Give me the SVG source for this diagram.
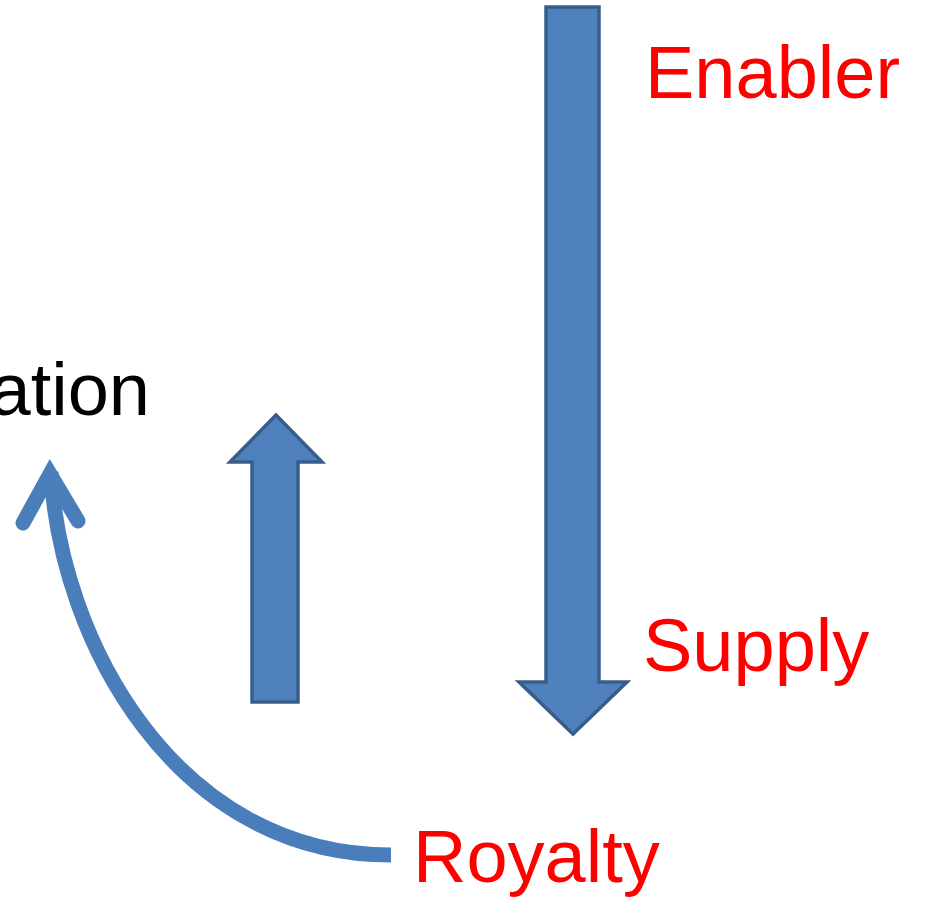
<svg xmlns="http://www.w3.org/2000/svg" width="926" height="898" viewBox="0 0 926 898">
<style>
.blk{fill:#4F81BD;stroke:#385D8A;stroke-width:3.5;stroke-linejoin:miter}
.lbl{font-family:"Liberation Sans",Arial,sans-serif;font-size:74px}
.red{fill:#FF0000}
.curve{fill:none;stroke:#4A7EBB;stroke-width:15}
</style>
<rect width="926" height="898" fill="#FFFFFF"/>
<g id="text-ation"><text class="lbl" x="150" y="415" text-anchor="end" fill="#000000">ation</text></g>
<g id="enabler"><text class="lbl red" x="645" y="98">Enabler</text></g>
<g id="supply"><text class="lbl red" x="643" y="671">Supply</text></g>
<g id="royalty"><text class="lbl red" x="413" y="882">Royalty</text></g>
<g id="connectors">
<polygon id="down-arrow" class="blk" points="546,7 599,7 599,682 627,682 573,734 519,682 546,682"/>
<polygon id="up-arrow" class="blk" points="252,702 298,702 298,462 322,462 276,415 230,462 252,462"/>
<path id="curved-arrow" class="curve" d="M391,855 C175,855 60,640 51,472"/>
<polyline class="curve" points="23,523 50,474 78,521" stroke-linecap="round" stroke-linejoin="miter"/>
</g>
</svg>
